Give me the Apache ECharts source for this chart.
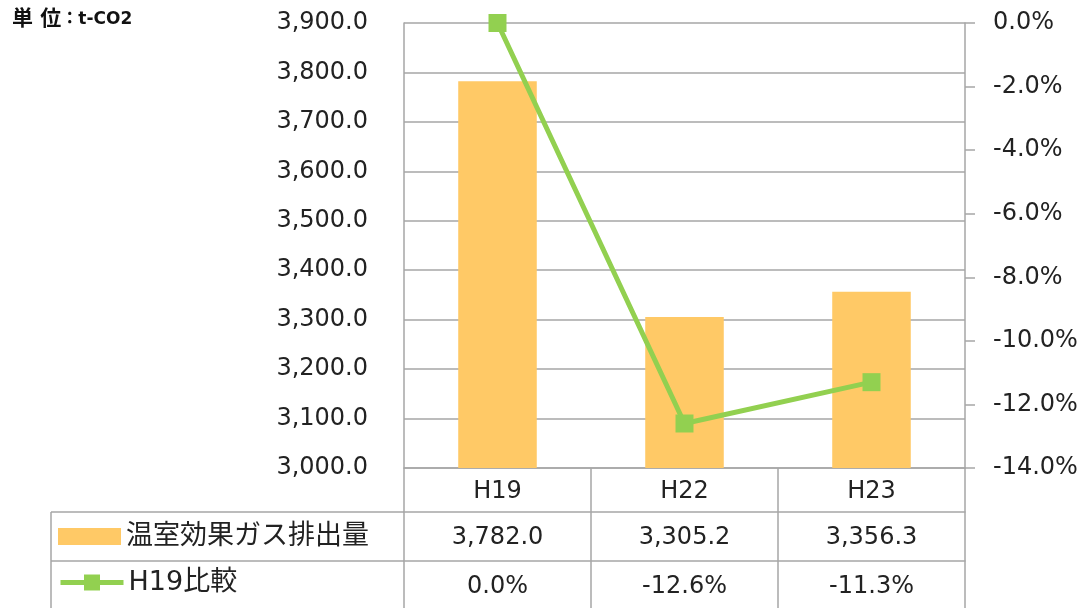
<!DOCTYPE html>
<html>
<head>
<meta charset="utf-8">
<script src="https://cdn.jsdelivr.net/npm/echarts@6/dist/echarts.min.js"></script>
<style>
  html, body { margin: 0; padding: 0; background: #fff; }
  #main { width: 1085px; height: 608px; }
</style>
</head>
<body>
<div id="main"></div>
<script>
// data
var categories = ['H19', 'H22', 'H23'];
var emissions = [3782.0, 3305.2, 3356.3];
var ratioToH19 = [0.0, -12.6, -11.3];
var barName = '温室効果ガス排出量';
var lineName = 'H19比較';

var font = "'DejaVu Sans', 'Noto Sans CJK JP', sans-serif";
var gray = '#a6a6a6';
var textColor = '#222';
var barColor = '#ffc966';
var lineColor = '#92d050';

var fmtNum = function (v) {
    return Number(v).toLocaleString('en-US', { minimumFractionDigits: 1, maximumFractionDigits: 1 });
};
var fmtPct = function (v) {
    return Number(v).toFixed(1) + '%';
};

var chart = echarts.init(document.getElementById('main'));

// one category axis per table row
var tableAxis = function (offset, tickLen, margin, formatter) {
    return {
        type: 'category',
        data: categories,
        position: 'bottom',
        offset: offset,
        axisLine: { show: true, onZero: false, lineStyle: { color: gray, width: 1.5 } },
        axisTick: { show: true, length: tickLen, lineStyle: { color: gray, width: 1.5 } },
        axisLabel: {
            margin: margin,
            color: textColor,
            fontFamily: font,
            fontSize: 24,
            formatter: formatter
        },
        splitLine: { show: false }
    };
};

var legendBase = {
    orient: 'vertical',
    left: 58,
    padding: 0,
    itemWidth: 63,
    itemGap: 8,
    textStyle: { fontFamily: font, fontSize: 27, color: textColor }
};

var option = {
    animation: false,
    backgroundColor: '#fff',
    textStyle: { fontFamily: font },
    grid: { left: 404, right: 120, top: 23, bottom: 140 },
    legend: [
        Object.assign({}, legendBase, {
            top: 523,
            itemHeight: 17,
            data: [{ name: barName, icon: 'rect' }]
        }),
        Object.assign({}, legendBase, {
            top: 569,
            itemHeight: 20,
            lineStyle: { width: 5 },
            data: [lineName]
        })
    ],
    xAxis: [
        tableAxis(0, 44, 12, function (v) { return v; }),
        tableAxis(44, 49, 14, function (v, i) { return fmtNum(emissions[i]); }),
        tableAxis(93, 49, 14, function (v, i) { return fmtPct(ratioToH19[i]); })
    ],
    yAxis: [
        {
            type: 'value',
            min: 3000,
            max: 3900,
            interval: 100,
            axisLine: { show: true, lineStyle: { color: gray, width: 1.5 } },
            axisTick: { show: false },
            axisLabel: {
                margin: 36,
                color: textColor,
                fontFamily: font,
                fontSize: 24,
                formatter: fmtNum
            },
            splitLine: { show: true, lineStyle: { color: gray, width: 1.5 } }
        },
        {
            type: 'value',
            min: -14,
            max: 0,
            interval: 2,
            position: 'right',
            axisLine: { show: true, lineStyle: { color: gray, width: 1.5 } },
            axisTick: { show: true, length: 10, lineStyle: { color: gray, width: 1.5 } },
            axisLabel: {
                margin: 28,
                color: textColor,
                fontFamily: font,
                fontSize: 24,
                formatter: fmtPct
            },
            splitLine: { show: false }
        }
    ],
    series: [
        {
            name: barName,
            type: 'bar',
            xAxisIndex: 0,
            yAxisIndex: 0,
            barWidth: '42%',
            itemStyle: { color: barColor },
            data: emissions
        },
        {
            name: lineName,
            type: 'line',
            xAxisIndex: 0,
            yAxisIndex: 1,
            symbol: 'rect',
            symbolSize: 18,
            lineStyle: { color: lineColor, width: 5 },
            itemStyle: { color: lineColor },
            data: ratioToH19
        }
    ],
    graphic: [
        {
            type: 'text',
            left: 12,
            top: 9,
            style: {
                text: '{a|単 位}{b|：t-CO2}',
                rich: {
                    a: { fontFamily: font, fontSize: 21, fontWeight: 'bold', fill: '#111' },
                    b: { fontFamily: font, fontSize: 17, fontWeight: 'bold', fill: '#111' }
                }
            }
        },
        // table frame left of the plot
        { type: 'line', shape: { x1: 51, y1: 512, x2: 404, y2: 512 }, style: { stroke: gray, lineWidth: 1.5 } },
        { type: 'line', shape: { x1: 51, y1: 561, x2: 404, y2: 561 }, style: { stroke: gray, lineWidth: 1.5 } },
        { type: 'line', shape: { x1: 51, y1: 512, x2: 51, y2: 608 }, style: { stroke: gray, lineWidth: 1.5 } }
    ]
};

chart.setOption(option);
</script>
</body>
</html>
